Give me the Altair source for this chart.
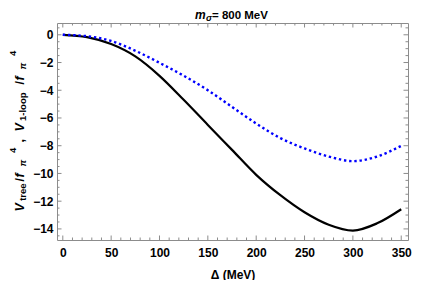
import altair as alt
import pandas as pd

# ---- data ----
delta = [0, 25, 50, 75, 100, 125, 150, 175, 200, 225, 250, 275, 300, 325, 350]
v_tree = [0, -0.17, -0.67, -1.56, -2.96, -4.69, -6.50, -8.30, -10.10, -11.57, -12.80, -13.70, -14.12, -13.60, -12.58]
v_loop = [0, -0.10, -0.45, -1.15, -2.02, -2.95, -4.00, -5.20, -6.40, -7.45, -8.20, -8.78, -9.11, -8.78, -8.01]

x_major = [0, 50, 100, 150, 200, 250, 300, 350]
y_major = [0, -2, -4, -6, -8, -10, -12, -14]
x_minor = [v for v in range(0, 360, 10) if v % 50 != 0]
y_minor = [0.5] + [-(i * 0.5) for i in range(1, 30) if i % 4 != 0]

W, H = 351, 217
FONT = "Liberation Sans"
FRAME = "#8c8c8c"

xs = alt.Scale(domain=[-6, 357], nice=False, zero=False)
ys = alt.Scale(domain=[-14.8, 0.85], nice=False, zero=False)

x_axis = alt.Axis(values=x_major, ticks=False, tickSize=0, domain=False, grid=False,
                  labelFont=FONT, labelFontSize=12, labelFontWeight="bold", labelColor="black",
                  labelPadding=7, labelOverlap=False, title="Δ (MeV)", titleFont=FONT,
                  titleFontSize=12, titleFontWeight="bold", titleColor="black", titlePadding=11)
y_axis = alt.Axis(values=y_major, ticks=False, tickSize=0, domain=False, grid=False,
                  labelFont=FONT, labelFontSize=12, labelFontWeight="bold", labelColor="black",
                  labelPadding=4, labelOverlap=False, title=None)

df_tree = pd.DataFrame({"delta": delta, "v": v_tree})
df_loop = pd.DataFrame({"delta": delta, "v": v_loop})

tree = alt.Chart(df_tree).mark_line(color="black", strokeWidth=2.2, interpolate="monotone").encode(
    x=alt.X("delta:Q", scale=xs, axis=x_axis),
    y=alt.Y("v:Q", scale=ys, axis=y_axis),
)
loop = alt.Chart(df_loop).mark_line(color="#0000ff", strokeWidth=2.4, strokeDash=[2.4, 2.8],
                                    strokeCap="butt", interpolate="monotone").encode(
    x=alt.X("delta:Q", scale=xs, axis=x_axis),
    y=alt.Y("v:Q", scale=ys, axis=y_axis),
)

# ---- inward frame ticks ----
def xticks(vals, length):
    d = pd.DataFrame({"t": vals})
    bot = alt.Chart(d).mark_rule(color=FRAME, strokeWidth=1).encode(
        x=alt.X("t:Q", scale=xs, axis=x_axis), y=alt.value(H), y2=alt.value(H - length))
    top = alt.Chart(d).mark_rule(color=FRAME, strokeWidth=1).encode(
        x=alt.X("t:Q", scale=xs, axis=x_axis), y=alt.value(0), y2=alt.value(length))
    return [bot, top]

def yticks(vals, length):
    d = pd.DataFrame({"t": vals})
    left = alt.Chart(d).mark_rule(color=FRAME, strokeWidth=1).encode(
        y=alt.Y("t:Q", scale=ys, axis=y_axis), x=alt.value(0), x2=alt.value(length))
    right = alt.Chart(d).mark_rule(color=FRAME, strokeWidth=1).encode(
        y=alt.Y("t:Q", scale=ys, axis=y_axis), x=alt.value(W), x2=alt.value(W - length))
    return [left, right]

tick_layers = xticks(x_major, 4.5) + xticks(x_minor, 2.5) + yticks(y_major, 4.5) + yticks(y_minor, 2.5)

# ---- rich text pieces (title and y-axis title) ----
def txt(s, x, y, size, style="normal", angle=0):
    return alt.Chart(pd.DataFrame({"t": [s]})).mark_text(
        text=s, align="left", baseline="alphabetic", font=FONT, fontSize=size,
        fontStyle=style, fontWeight="bold", angle=angle, color="black"
    ).encode(x=alt.value(x), y=alt.value(y))

title_parts = [
    txt("m", 138, -4.5, 12, "italic"),
    txt("σ", 149, -2.0, 9, "italic"),
    txt("= 800 MeV", 155, -4.5, 11.5),
]

MB, SB, PB = -33.5, -30.8, -40.8
A = 270
ytitle_parts = [
    txt("V", MB, 188.4, 12.5, "italic", A),
    txt("tree", SB, 177.8, 9.5, "normal", A),
    txt("/", MB, 158.5, 12.5, "normal", A),
    txt("f", MB, 154.5, 12.5, "italic", A),
    txt("π", SB, 143.5, 9.5, "italic", A),
    txt("4", PB, 130.0, 9.5, "normal", A),
    txt(",", MB, 119.5, 12.5, "normal", A),
    txt("V", MB, 108.4, 12.5, "italic", A),
    txt("1-loop", SB, 98.0, 9.5, "normal", A),
    txt("/", MB, 61.5, 12.5, "normal", A),
    txt("f", MB, 57.5, 12.5, "italic", A),
    txt("π", SB, 46.5, 9.5, "italic", A),
    txt("4", PB, 33.0, 9.5, "normal", A),
]

chart = alt.layer(tree, loop, *tick_layers, *title_parts, *ytitle_parts).properties(
    width=W, height=H,
    autosize=alt.AutoSizeParams(type="none"),
    padding={"left": 49, "top": 15, "right": 10, "bottom": 40},
).configure_view(stroke=FRAME, strokeWidth=1)

chart.save("out.html", embed_options={"renderer": "svg", "actions": False})
